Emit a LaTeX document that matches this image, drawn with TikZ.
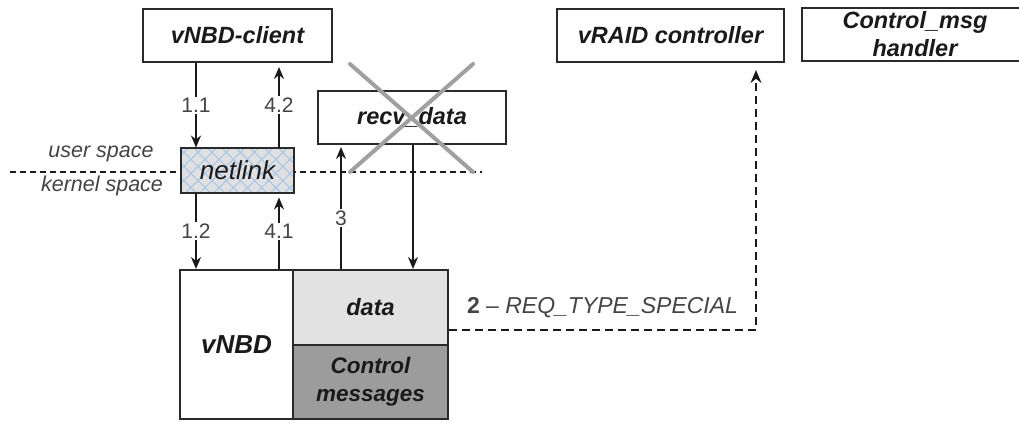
\documentclass[tikz,border=0pt]{standalone}
\usepackage{fontspec}
\setmainfont{Liberation Sans}
\usetikzlibrary{arrows.meta,patterns.meta,calc}
\definecolor{edge}{HTML}{2A2A2A}
\definecolor{ink}{HTML}{1A1A1A}
\definecolor{numgray}{HTML}{444444}
\definecolor{datafill}{HTML}{E2E2E2}
\definecolor{ctrlfill}{HTML}{9C9C9C}
\definecolor{netfill}{HTML}{E0E0E0}
\definecolor{hatchblue}{HTML}{9EC4EA}
\definecolor{crossgray}{HTML}{A0A0A0}
\begin{document}
\begin{tikzpicture}[x=1pt,y=-1pt,
  box/.style={draw=edge, line width=2pt, inner sep=0pt, align=center, text=ink,
    font=\fontsize{23.5}{28}\selectfont\bfseries\itshape},
  arr/.style={draw=ink, line width=1.6pt, -{Stealth[length=12pt,width=10pt]}},
  lbl/.style={fill=white, inner sep=1.5pt, text=numgray, font=\fontsize{21}{23}\selectfont},
  spacelbl/.style={text=numgray, inner sep=0pt, font=\fontsize{21.5}{24}\selectfont\itshape},
  sepline/.style={draw=ink, line width=1.4pt, dash pattern=on 6pt off 4pt},
  reqarrow/.style={draw=ink, line width=2.6pt, dash pattern=on 8pt off 5pt,
    -{Stealth[length=13pt,width=11pt]}},
  cross/.style={draw=crossgray, line width=4pt, line cap=round}
]
\useasboundingbox (0,0) rectangle (1019,421);
\clip (0,0) rectangle (1019,421);

% user / kernel space boundary
\coordinate (sepL) at (10,172);
\coordinate (sepR) at (482,172);
\draw[sepline] (sepL) -- (sepR);
\node[spacelbl] (us) at (101,154) {user space};
\node[spacelbl] (ks) at (102,186) {kernel space};

% user-space components
\node[box, minimum width=189pt, minimum height=53pt] (client) at (237.5,35.5) {vNBD-client};
\node[box, minimum width=188pt, minimum height=53pt] (recv) at (412,117.5) {recv\_data};
\node[box, minimum width=227pt, minimum height=53pt] (vraid) at (670.5,35.5) {vRAID controller};
\node[box, minimum width=226pt, minimum height=53pt] (handler) at (915,34.5) {Control\_msg\\handler};

% netlink socket
\node[box, minimum width=113pt, minimum height=45pt,
  preaction={fill=netfill},
  pattern={Hatch[angle=45,distance=10pt,line width=0.9pt]}, pattern color=hatchblue,
  font=\fontsize{26}{28}\selectfont\itshape] (netlink) at (237.5,170.5) {netlink};

% kernel module
\node[box, minimum width=113pt, minimum height=149pt, fill=white,
  font=\fontsize{26}{28}\selectfont\bfseries\itshape] (vnbd) at (236.5,344.5) {vNBD};
\node[box, minimum width=155pt, minimum height=75pt, fill=datafill] (data) at (370.5,307.5) {data};
\node[box, minimum width=155pt, minimum height=74pt, fill=ctrlfill,
  font=\fontsize{22.5}{28}\selectfont\bfseries\itshape] (ctrl) at (370.5,382) {Control\\messages};

% connector columns
\coordinate (xa) at (196,0);
\coordinate (xb) at (279,0);
\coordinate (xc) at (341,0);
\coordinate (xd) at (413,0);
\coordinate (xe) at (756,0);

\draw[arr] (client.south -| xa) -- (netlink.north -| xa) node[lbl, midway] {1.1};
\draw[arr, shorten >=4pt] (netlink.north -| xb) -- (client.south -| xb) node[lbl, midway] {4.2};
\draw[arr] (netlink.south -| xa) -- (vnbd.north -| xa) node[lbl, midway] {1.2};
\draw[arr, shorten >=4pt] (vnbd.north -| xb) -- (netlink.south -| xb) node[lbl, midway] {4.1};
\draw[arr, shorten >=2pt] (data.north -| xc) -- (recv.south -| xc) node[lbl, pos=0.41] {3};
\draw[arr] (recv.south -| xd) -- (data.north -| xd);

% request to the RAID controller
\coordinate (reqstart) at ($(data.south east)!0.21!(data.north east)$);
\draw[reqarrow, shorten >=7pt] (reqstart) -- (reqstart -| xe)
  node[midway, anchor=base, yshift=16pt, inner sep=0pt, text=numgray,
    font=\fontsize{23}{25}\selectfont] (reqlbl) {\textbf{2} -- \textit{REQ\_TYPE\_SPECIAL}}
  -- (vraid.south -| xe);

% recv_data is crossed out
\draw[cross] (350,64) -- (473,172);
\draw[cross] (473,64) -- (350,172);
\end{tikzpicture}
\end{document}
